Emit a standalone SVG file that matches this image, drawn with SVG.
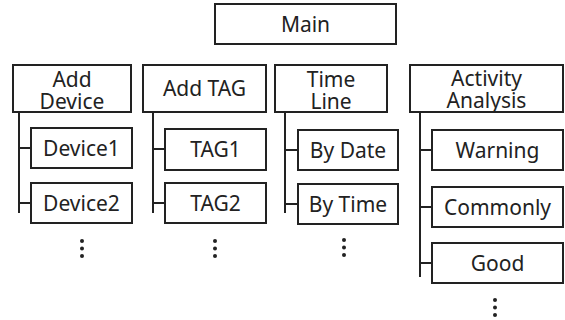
<svg xmlns="http://www.w3.org/2000/svg" width="565" height="320" viewBox="0 0 565 320">
<style>
rect{fill:#fff;stroke:#222;stroke-width:2}
text{font-family:"Noto Sans","Open Sans",sans-serif;font-size:21px;fill:#222;text-anchor:middle}
.c line{stroke:#222;stroke-width:2}
.d circle{fill:#222}
</style>
<rect x="0" y="0" width="565" height="320" style="stroke:none"/>
<g class="c" id="connectors">
<line x1="19" y1="112" x2="19" y2="213"/>
<line x1="19" y1="148" x2="31" y2="148"/>
<line x1="19" y1="203" x2="31" y2="203"/>
<line x1="153" y1="112" x2="153" y2="213"/>
<line x1="153" y1="149" x2="165" y2="149"/>
<line x1="153" y1="203" x2="165" y2="203"/>
<line x1="285" y1="112" x2="285" y2="213"/>
<line x1="285" y1="150" x2="298" y2="150"/>
<line x1="285" y1="204" x2="298" y2="204"/>
<line x1="420" y1="112" x2="420" y2="277"/>
<line x1="420" y1="150" x2="432" y2="150"/>
<line x1="420" y1="207" x2="432" y2="207"/>
<line x1="420" y1="263" x2="432" y2="263"/>
</g>
<g id="main"><rect x="215" y="4" width="181" height="40"/><text x="305.5" y="32">Main</text></g>
<g id="add-device"><rect x="13" y="65" width="118" height="47"/><text x="72" y="87">Add</text><text x="72" y="109">Device</text></g>
<g id="add-tag"><rect x="143" y="65" width="123" height="47"/><text x="204.5" y="96">Add TAG</text></g>
<g id="time-line"><rect x="275" y="65" width="112" height="47"/><text x="331" y="87">Time</text><text x="331" y="109">Line</text></g>
<g id="activity"><rect x="410" y="65" width="153" height="47"/><text x="486.5" y="86">Activity</text><text x="486.5" y="108">Analysis</text></g>
<g id="device1"><rect x="31" y="128" width="101" height="40"/><text x="81.5" y="156">Device1</text></g>
<g id="device2"><rect x="31" y="183" width="101" height="40"/><text x="81.5" y="211">Device2</text></g>
<g id="tag1"><rect x="165" y="129" width="101" height="41"/><text x="215.5" y="157">TAG1</text></g>
<g id="tag2"><rect x="165" y="183" width="101" height="40"/><text x="215.5" y="211">TAG2</text></g>
<g id="by-date"><rect x="298" y="130" width="100" height="40"/><text x="348" y="158">By Date</text></g>
<g id="by-time"><rect x="298" y="184" width="100" height="40"/><text x="348" y="212">By Time</text></g>
<g id="warning"><rect x="432" y="130" width="131" height="40"/><text x="497.5" y="158">Warning</text></g>
<g id="commonly"><rect x="432" y="187" width="131" height="40"/><text x="497.5" y="215">Commonly</text></g>
<g id="good"><rect x="432" y="243" width="131" height="40"/><text x="497.5" y="271">Good</text></g>
<g class="d" id="dots">
<circle cx="82" cy="241" r="2"/><circle cx="82" cy="248.5" r="2"/><circle cx="82" cy="256" r="2"/>
<circle cx="215" cy="241" r="2"/><circle cx="215" cy="248.5" r="2"/><circle cx="215" cy="256" r="2"/>
<circle cx="344" cy="240" r="2"/><circle cx="344" cy="247.5" r="2"/><circle cx="344" cy="255" r="2"/>
<circle cx="495" cy="300" r="2"/><circle cx="495" cy="307.5" r="2"/><circle cx="495" cy="315" r="2"/>
</g>
</svg>
